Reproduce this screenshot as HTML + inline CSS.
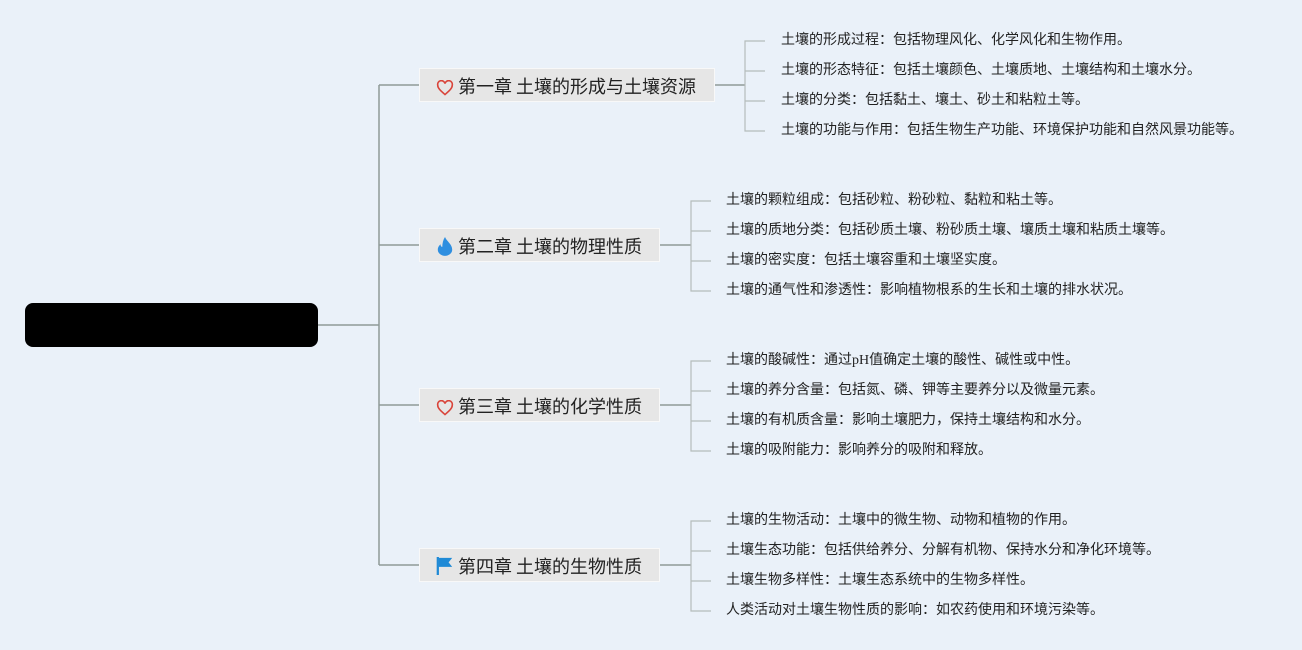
<!DOCTYPE html>
<html><head><meta charset="utf-8"><style>
body{margin:0;width:1302px;height:650px;background:#eaf1f9;position:relative;overflow:hidden;font-family:"Liberation Sans","Noto Sans CJK SC",sans-serif;}
.root{position:absolute;left:25px;top:303px;width:293px;height:44px;background:#000;border-radius:8px;}
.ch{position:absolute;height:34px;line-height:34px;background:#e6e6e6;border:1px solid #f8f8f8;box-sizing:border-box;font-size:18px;color:#222;padding-left:16px;white-space:nowrap;font-family:"Noto Sans CJK SC",sans-serif;}
.ch svg{vertical-align:-3px;margin-right:4px}
.lf{position:absolute;font-size:14px;color:#222;line-height:18px;white-space:nowrap;font-family:"Liberation Serif","Noto Sans CJK SC",sans-serif}
</style></head><body>
<svg width="1302" height="650" style="position:absolute;left:0;top:0">
<g stroke="#8f9a98" stroke-width="1.5" fill="none">
<path d="M318 325H379M379 85V565M379 85H419M379 245H419M379 405H419M379 565H419"/>
<path d="M715 85H745M660 245H691M660 405H691M660 565H691"/>
</g>
<g stroke="#b5bcbb" stroke-width="1.2" fill="none">
<path d="M765 41H745V131H765M745 71H765M745 101H765"/>
<path d="M711 201H691V291H711M691 231H711M691 261H711"/>
<path d="M711 361H691V451H711M691 391H711M691 421H711"/>
<path d="M711 521H691V611H711M691 551H711M691 581H711"/>
</g>
</svg>
<div class="root"></div>
<div class="ch" style="left:419px;top:68px;width:296px"><svg width="18" height="16" viewBox="0 0 24 22"><path d="M12 20C5 14 2 11 2 7a5 5 0 0 1 10-2a5 5 0 0 1 10 2c0 4-3 7-10 13z" fill="none" stroke="#d9443a" stroke-width="2.2"/></svg>第一章 土壤的形成与土壤资源</div>
<div class="ch" style="left:419px;top:228px;width:241px"><svg width="18" height="20" viewBox="0 0 20 22"><path d="M10 1C12 6 18 9 18 15a8 7 0 0 1-16 0c0-3 2-5 3-6c0 2 1 3 2 3C7 8 8 4 10 1z" fill="#2f8fe0"/></svg>第二章 土壤的物理性质</div>
<div class="ch" style="left:419px;top:388px;width:241px"><svg width="18" height="16" viewBox="0 0 24 22"><path d="M12 20C5 14 2 11 2 7a5 5 0 0 1 10-2a5 5 0 0 1 10 2c0 4-3 7-10 13z" fill="none" stroke="#d9443a" stroke-width="2.2"/></svg>第三章 土壤的化学性质</div>
<div class="ch" style="left:419px;top:548px;width:241px"><svg width="18" height="20" viewBox="0 0 20 22"><path d="M2 1V21" stroke="#1f8ad6" stroke-width="2.5"/><path d="M3 2H18L14 7L18 12H3z" fill="#1f8ad6"/></svg>第四章 土壤的生物性质</div>
<div class="lf" style="left:781px;top:32px">土壤的形成过程：包括物理风化、化学风化和生物作用。</div>
<div class="lf" style="left:781px;top:62px">土壤的形态特征：包括土壤颜色、土壤质地、土壤结构和土壤水分。</div>
<div class="lf" style="left:781px;top:92px">土壤的分类：包括黏土、壤土、砂土和粘粒土等。</div>
<div class="lf" style="left:781px;top:122px">土壤的功能与作用：包括生物生产功能、环境保护功能和自然风景功能等。</div>
<div class="lf" style="left:726px;top:192px">土壤的颗粒组成：包括砂粒、粉砂粒、黏粒和粘土等。</div>
<div class="lf" style="left:726px;top:222px">土壤的质地分类：包括砂质土壤、粉砂质土壤、壤质土壤和粘质土壤等。</div>
<div class="lf" style="left:726px;top:252px">土壤的密实度：包括土壤容重和土壤坚实度。</div>
<div class="lf" style="left:726px;top:282px">土壤的通气性和渗透性：影响植物根系的生长和土壤的排水状况。</div>
<div class="lf" style="left:726px;top:352px">土壤的酸碱性：通过pH值确定土壤的酸性、碱性或中性。</div>
<div class="lf" style="left:726px;top:382px">土壤的养分含量：包括氮、磷、钾等主要养分以及微量元素。</div>
<div class="lf" style="left:726px;top:412px">土壤的有机质含量：影响土壤肥力，保持土壤结构和水分。</div>
<div class="lf" style="left:726px;top:442px">土壤的吸附能力：影响养分的吸附和释放。</div>
<div class="lf" style="left:726px;top:512px">土壤的生物活动：土壤中的微生物、动物和植物的作用。</div>
<div class="lf" style="left:726px;top:542px">土壤生态功能：包括供给养分、分解有机物、保持水分和净化环境等。</div>
<div class="lf" style="left:726px;top:572px">土壤生物多样性：土壤生态系统中的生物多样性。</div>
<div class="lf" style="left:726px;top:602px">人类活动对土壤生物性质的影响：如农药使用和环境污染等。</div>
</body></html>
